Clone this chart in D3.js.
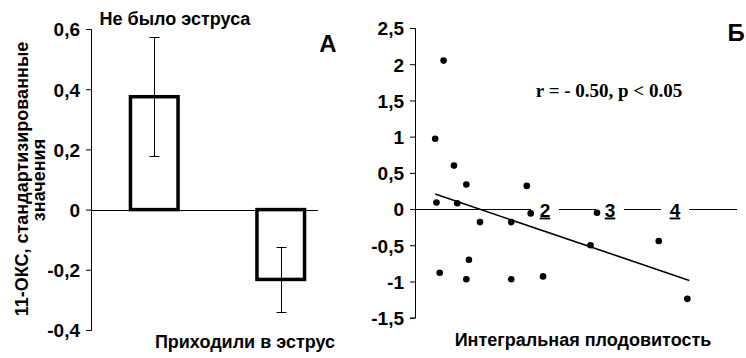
<!DOCTYPE html>
<html><head><meta charset="utf-8">
<script src="https://cdn.jsdelivr.net/npm/d3@7"></script>
<style>
body{margin:0;background:#fff}
svg text{font-family:Arial,"Liberation Sans",sans-serif;fill:#000}
</style></head>
<body><svg id="c" width="746" height="358"></svg>
<script>
// ---------- data ----------
const categories = ["Не было эструса", "Приходили в эструс"];
const barMeans = [0.375, -0.232];
const barErrors = [0.198, 0.108];
const leftTicks = [-0.4, -0.2, 0, 0.2, 0.4, 0.6];
const leftTitle = ["11-ОКС, стандартизированные", "значения"];

const scatterX = [0.31, 0.60, 0.79, 0.33, 0.65, 1.00, 1.48, 1.72, 1.78, 2.80, 2.70, 3.75, 0.38, 0.83, 0.79, 1.48, 1.97, 4.19, 0.44];
const scatterY = [0.97, 0.60, 0.34, 0.09, 0.08, -0.18, -0.18, 0.32, -0.06, -0.05, -0.50, -0.44, -0.88, -0.70, -0.97, -0.97, -0.93, -1.24, 2.05];
const regX = [0.31, 4.22];
const regY = [0.207, -0.985];
const rightTicks = [-1.5, -1, -0.5, 0, 0.5, 1, 1.5, 2, 2.5];
const groupMarks = [2, 3, 4];
const rightTitle = "Интегральная плодовитость";
const corrText = "r = - 0.50, p < 0.05";
const panelLabels = ["А", "Б"];

const fmt = v => String(v).replace(".", ",");
const TICK_FS = "19px", TITLE_FS = "18px";

const svg = d3.select("#c");

// ---------- Panel A ----------
const yL = d3.scaleLinear().domain([-0.4, 0.6]).range([330, 29]);
const xL = d3.scaleBand().domain(categories).range([91, 344]).paddingInner(0.6).paddingOuter(0.3);
const axL = 91;

const gL = svg.append("g");
gL.append("g").attr("transform", `translate(${axL},0)`)
  .call(d3.axisLeft(yL).tickValues(leftTicks).tickFormat(fmt).tickSizeOuter(0).tickSize(5).tickPadding(6))
  .call(g => g.selectAll("text").style("font-size", TICK_FS).style("font-weight", "bold").attr("fill", "#000").attr("dy", "0.36em"))
  .call(g => g.selectAll("line,path").attr("stroke", "#000"));

// zero line
gL.append("line").attr("x1", axL).attr("x2", 318).attr("y1", Math.round(yL(0)) + 0.5).attr("y2", Math.round(yL(0)) + 0.5)
  .attr("stroke", "#000").attr("stroke-width", 1);

// bars
gL.selectAll("rect.bar").data(categories).join("rect").attr("class", "bar")
  .attr("x", d => xL(d) + 1.5)
  .attr("width", xL.bandwidth() - 3)
  .attr("y", (d, i) => Math.min(yL(barMeans[i]), yL(0)))
  .attr("height", (d, i) => Math.abs(yL(barMeans[i]) - yL(0)))
  .attr("fill", "#fff").attr("stroke", "#000").attr("stroke-width", 3.5);

// error bars
categories.forEach((c, i) => {
  const cx = Math.round(xL(c) + xL.bandwidth() / 2) + 0.5;
  const hi = yL(barMeans[i] + barErrors[i]), lo = yL(barMeans[i] - barErrors[i]);
  gL.append("line").attr("x1", cx).attr("x2", cx).attr("y1", hi).attr("y2", lo).attr("stroke", "#000");
  [hi, lo].forEach(y => gL.append("line").attr("x1", cx - 5).attr("x2", cx + 5)
    .attr("y1", Math.round(y) + 0.5).attr("y2", Math.round(y) + 0.5).attr("stroke", "#000"));
});

// category labels
gL.append("text").attr("x", 175).attr("y", 25).attr("text-anchor", "middle")
  .style("font-size", TITLE_FS).style("font-weight", "bold").text(categories[0]);
gL.append("text").attr("x", 245).attr("y", 348).attr("text-anchor", "middle")
  .style("font-size", TITLE_FS).style("font-weight", "bold").text(categories[1]);

// y title
const tl = gL.append("text").attr("transform", "rotate(-90)").attr("text-anchor", "middle")
  .style("font-size", TITLE_FS).style("font-weight", "bold");
tl.append("tspan").attr("x", -179).attr("y", 28).text(leftTitle[0]);
tl.append("tspan").attr("x", -180).attr("y", 45).text(leftTitle[1]);

// panel label
gL.append("text").attr("x", 328).attr("y", 52).attr("text-anchor", "middle")
  .style("font-size", "24px").style("font-weight", "bold").text(panelLabels[0]);

// ---------- Panel Б ----------
const yR = d3.scaleLinear().domain([-1.5, 2.5]).range([317.7, 28]);
const xR = d3.scaleLinear().domain([0, 5]).range([415, 740]);
const axR = 415;
const gR = svg.append("g");

gR.append("g").attr("transform", `translate(${axR},0)`)
  .call(d3.axisLeft(yR).tickValues(rightTicks).tickFormat(fmt).tickSizeOuter(0).tickSize(5).tickPadding(6))
  .call(g => g.selectAll("text").style("font-size", TICK_FS).style("font-weight", "bold").attr("fill", "#000").attr("dy", "0.36em"))
  .call(g => g.selectAll("line,path").attr("stroke", "#000"));

const y0 = Math.round(yR(0)) + 0.5;
gR.append("line").attr("x1", axR).attr("x2", 737).attr("y1", y0).attr("y2", y0).attr("stroke", "#000");

// group labels with white gap
groupMarks.forEach(m => {
  gR.append("rect").attr("x", xR(m) - 14).attr("y", y0 - 4).attr("width", 28).attr("height", 8).attr("fill", "#fff");
  gR.append("text").attr("x", xR(m)).attr("y", y0 + 7).attr("text-anchor", "middle")
    .style("font-size", TICK_FS).style("font-weight", "bold").style("text-decoration", "underline").text(m);
});

// regression line
gR.append("line").attr("x1", xR(regX[0])).attr("y1", yR(regY[0])).attr("x2", xR(regX[1])).attr("y2", yR(regY[1]))
  .attr("stroke", "#000").attr("stroke-width", 1.6);

// points
gR.selectAll("circle").data(scatterX).join("circle")
  .attr("cx", d => xR(d)).attr("cy", (d, i) => yR(scatterY[i])).attr("r", 3.3).attr("fill", "#000");

// correlation text
gR.append("text").attr("x", 609).attr("y", 97).attr("text-anchor", "middle")
  .style("font-family", "'Liberation Serif','Times New Roman',serif").style("font-size", "19px").style("font-weight", "bold")
  .text(corrText);

// x title
gR.append("text").attr("x", 583).attr("y", 346).attr("text-anchor", "middle")
  .style("font-size", TITLE_FS).style("font-weight", "bold").text(rightTitle);

// panel label
gR.append("text").attr("x", 736).attr("y", 41).attr("text-anchor", "middle")
  .style("font-size", "24px").style("font-weight", "bold").text(panelLabels[1]);
</script></body></html>
